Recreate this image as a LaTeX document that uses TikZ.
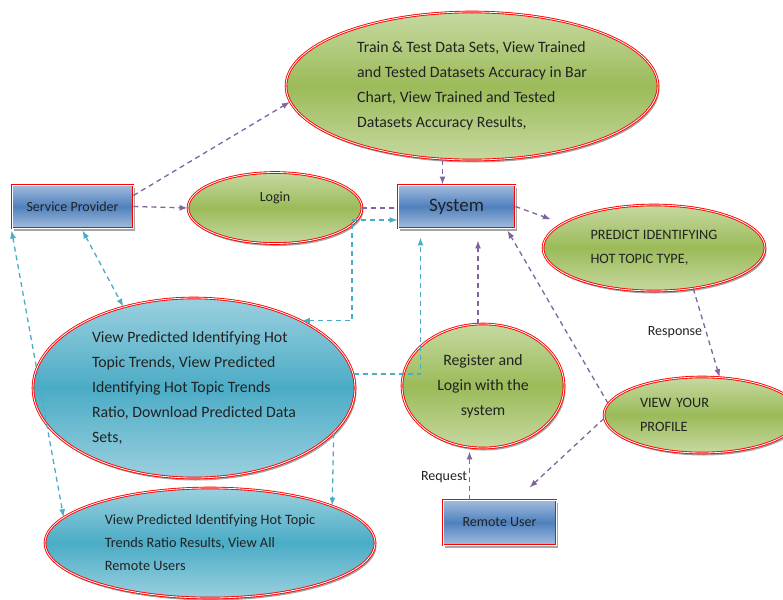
\documentclass[tikz,border=0pt]{standalone}
\usepackage{fontspec}
\setmainfont{Carlito}
\usetikzlibrary{arrows.meta,shapes.geometric,shadows}
\tikzset{> = {Latex[length=8pt,width=6pt]}}
\definecolor{flow}{HTML}{8064A2}
\definecolor{aqua}{HTML}{4BACC6}
\definecolor{ink}{HTML}{222222}
\definecolor{leaf}{HTML}{9BBB59}
\definecolor{leaflight}{HTML}{C6D9A0}
\definecolor{sea}{HTML}{4BACC6}
\definecolor{sealight}{HTML}{9BD0DF}
\definecolor{boxdark}{HTML}{4F81BD}
\definecolor{boxlight}{HTML}{A3BCDD}
\tikzset{
	rim/.style={draw=red, double=white, double distance=.8pt, line width=.9pt,
		drop shadow={shadow xshift=1.5pt, shadow yshift=-2.5pt, fill=black!70, opacity=.5}},
	actor/.style={rim, rectangle, inner sep=0, top color=boxlight, bottom color=boxlight,
		middle color=boxdark, text=ink, font=\fontsize{14}{17}\selectfont},
	greenball/.style={rim, ellipse, inner sep=0, top color=leaflight, bottom color=leaflight,
		middle color=leaf, text=ink, align=left, font=\fontsize{14.3}{24}\selectfont},
	blueball/.style={rim, ellipse, inner sep=0, top color=sealight, bottom color=sealight,
		middle color=sea, text=ink, align=left, font=\fontsize{14.3}{23}\selectfont},
	bigtext/.style={font=\fontsize{15.8}{25}\selectfont},
	flowline/.style={flow, line width=1.3pt, dash pattern=on 5pt off 4pt},
	aqualine/.style={aqua, line width=1.3pt, dash pattern=on 5pt off 4pt},
}
\begin{document}
\begin{tikzpicture}[x=1pt,y=-1pt]
	\useasboundingbox (0,0) rectangle (783,599);
	% actors
	\node[actor, minimum width=121, minimum height=43] (sp) at (72.5,206.5) {Service Provider};
	\node[actor, minimum width=117, minimum height=43, font=\fontsize{19}{22}\selectfont] (sys) at (456.5,206.5) {System};
	\node[actor, minimum width=113, minimum height=45] (ru) at (499.5,522.5) {Remote User};
	% use cases
	\node[greenball, bigtext, minimum width=372, minimum height=148] (train) at (472,86)
		{Train \& Test Data Sets, View Trained\\and Tested Datasets Accuracy in Bar\\Chart, View Trained and Tested\\Datasets Accuracy Results,};
	\node[greenball, minimum width=174, minimum height=71] (login) at (275,208) {};
	\node[text=ink, font=\fontsize{14}{17}\selectfont] (logintext) at (275,198) {Login};
	\node[greenball, minimum width=222, minimum height=86] (predict) at (654,248)
		{PREDICT IDENTIFYING\\HOT TOPIC TYPE,};
	\node[greenball, minimum width=196, minimum height=76, text width=124] (profile) at (702,415)
		{VIEW YOUR\\PROFILE};
	\node[greenball, bigtext, minimum width=162, minimum height=124, align=center] (register) at (483,386)
		{Register and\\Login with the\\system};
	\node[blueball, bigtext, minimum width=322, minimum height=180] (trends) at (194,388)
		{View Predicted Identifying Hot\\Topic Trends, View Predicted\\Identifying Hot Topic Trends\\Ratio, Download Predicted Data\\Sets,};
	\node[blueball, minimum width=330, minimum height=110] (ratio) at (210,543)
		{View Predicted Identifying Hot Topic\\Trends Ratio Results, View All\\Remote Users};
	\node[text=ink, font=\fontsize{14}{17}\selectfont] (response) at (675,332) {Response};
	\node[text=ink, font=\fontsize{14}{17}\selectfont] (request) at (444,477) {Request};
	% service provider side
	\draw[flowline,->] ([yshift=11]sp.east) -- (train.185);
	\draw[flowline,->] (sp.east) -- (login.west);
	\draw[flowline] (login.east) -- (login.east -| sys.west);
	\coordinate (bend) at (352,220);
	\draw[aqualine,<->] (trends.32) -| (bend) -- (bend -| sys.west);
	\draw[aqualine,->] (trends.5) -| ([xshift=-36,yshift=-9]sys.south);
	\draw[aqualine,<->] ([xshift=10,yshift=-2]sp.south) -- (trends.131);
	\draw[aqualine,<->] ([yshift=-2]sp.south west) -- (ratio.170);
	\draw[aqualine,->] (trends.-18) -- (ratio.17);
	% remote user side
	\draw[flowline,->] ([xshift=-14]sys.north |- train.south) -- ([xshift=-14]sys.north);
	\draw[flowline,->,shorten >=12pt] (sys.east) -- (predict.165);
	\draw[flowline,->] (predict.314) -- (profile.65);
	\draw[flowline,->] (profile.173) -- ([xshift=-8,yshift=-2]sys.south east);
	\draw[flowline,->] (profile.182) -- ([xshift=30,yshift=12]ru.north);
	\draw[flowline,->] ([xshift=-30]ru.north) -- ([xshift=-30,yshift=-3]ru.north |- register.south);
	\draw[flowline,->,shorten >=12pt] ([xshift=-5]register.north) -- ([xshift=-5]register.north |- sys.south);
\end{tikzpicture}
\end{document}
